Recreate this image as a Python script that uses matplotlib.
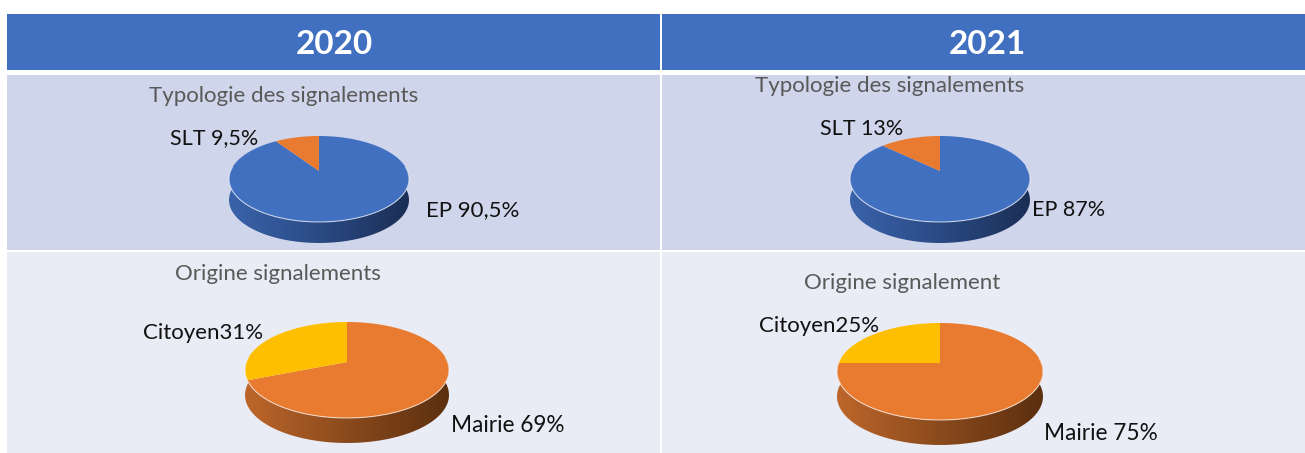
import numpy as np
import matplotlib
matplotlib.use("Agg")
import matplotlib.pyplot as plt
from matplotlib.patches import PathPatch, Rectangle
from matplotlib.path import Path
from matplotlib.colors import LinearSegmentedColormap

# ---------------------------
# Data
# ---------------------------
years = ["2020", "2021"]
typo_titles = ["Typologie des signalements", "Typologie des signalements"]
origin_titles = ["Origine signalements", "Origine signalement"]
slt_share = [9.5, 13]
citoyen_share = [31, 25]
typo_labels = ["SLT 9,5%", "EP 90,5%", "SLT 13%", "EP 87%"]
origin_labels = ["Citoyen31%", "Mairie 69%", "Citoyen25%", "Mairie 75%"]

BLUE = "#4170C1"
ORANGE = "#E97B30"
YELLOW = "#FDBF00"
ROW1 = "#CFD5EA"
ROW2 = "#E9EBF5"

W, H = 1305, 453
plt.rcParams["font.family"] = ["Lato", "DejaVu Sans"]

fig = plt.figure(figsize=(W / 100, H / 100), dpi=100)
ax = fig.add_axes([0, 0, 1, 1])
ax.set_xlim(0, W)
ax.set_ylim(H, 0)
ax.axis("off")


def project(ang, cx, cy, top, bottom, half_w):
    # angle counted from 12 o'clock, perspective so that far side looks smaller
    a = 2 * (cy - top) * (bottom - cy) / (bottom - top)
    k = a / (cy - top) - 1
    b = half_w * np.sqrt(1 - k ** 2)
    u, v = np.sin(ang), np.cos(ang)
    s = 1 / (1 + k * v)
    return cx + b * u * s, cy - a * v * s


def draw_pie(share, main_col, small_col, side_cols, cx, cy, top, bottom, half_w, depth):
    # side of the disc
    t = np.linspace(np.pi / 2 - 0.12, 3 * np.pi / 2 + 0.12, 200)
    x, y = project(t, cx, cy, top, bottom, half_w)
    verts = np.vstack([np.column_stack([x, y]), np.column_stack([x[::-1], y[::-1] + depth])])
    clip = PathPatch(Path(np.vstack([verts, verts[:1]])), fc="none", ec="none", transform=ax.transData)
    ax.add_patch(clip)
    cmap = LinearSegmentedColormap.from_list("side", side_cols)
    im = ax.imshow(np.linspace(0, 1, 256)[None, :], cmap=cmap, aspect="auto",
                   extent=[x.min(), x.max(), bottom + depth, top], zorder=2)
    im.set_clip_path(clip)
    ax.set_xlim(0, W)
    ax.set_ylim(H, 0)
    # top surface
    split = 2 * np.pi * (1 - share / 100)
    t = np.linspace(0, split, 300)
    x, y = project(t, cx, cy, top, bottom, half_w)
    ax.fill(np.r_[cx, x], np.r_[cy, y], color=main_col, lw=0, zorder=3)
    t2 = np.linspace(split, 2 * np.pi, 100)
    x2, y2 = project(t2, cx, cy, top, bottom, half_w)
    ax.fill(np.r_[cx, x2], np.r_[cy, y2], color=small_col, lw=0, zorder=3)
    # thin light rim on the front edge
    t3 = np.linspace(np.pi / 2 - 0.1, 3 * np.pi / 2 + 0.1, 200)
    x3, y3 = project(t3, cx, cy, top, bottom, half_w)
    ax.plot(x3, y3, color="white", lw=0.8, alpha=0.65, zorder=4)


# ---------------------------
# Table background
# ---------------------------
for x0, x1 in [(7, 660), (662, 1305)]:
    ax.add_patch(Rectangle((x0, 14), x1 - x0, 56, fc=BLUE, ec="none"))
    ax.add_patch(Rectangle((x0, 75), x1 - x0, 175, fc=ROW1, ec="none"))
    ax.add_patch(Rectangle((x0, 252), x1 - x0, 201, fc=ROW2, ec="none"))

ax.text(334, 44, years[0], color="white", fontsize=24, fontweight="bold", ha="center", va="center")
ax.text(987, 44, years[1], color="white", fontsize=24, fontweight="bold", ha="center", va="center")

# ---------------------------
# Pies
# ---------------------------
blue_side = ["#3A63AB", "#2A4A84", "#1B2F55"]
orange_side = ["#BD662B", "#8A4A1C", "#5C2F0F"]
draw_pie(slt_share[0], BLUE, ORANGE, blue_side, 319, 171, 136, 222, 90, 21)
draw_pie(slt_share[1], BLUE, ORANGE, blue_side, 940, 171, 136, 222, 90, 21)
draw_pie(citoyen_share[0], ORANGE, YELLOW, orange_side, 347, 362, 322, 418, 102, 25)
draw_pie(citoyen_share[1], ORANGE, YELLOW, orange_side, 940, 363, 323, 420, 103, 25)

# ---------------------------
# Titles and labels
# ---------------------------
grey = "#595959"
ax.text(284, 96, typo_titles[0], color=grey, fontsize=16, ha="center", va="center")
ax.text(890, 86, typo_titles[1], color=grey, fontsize=16, ha="center", va="center")
ax.text(278, 274, origin_titles[0], color=grey, fontsize=16, ha="center", va="center")
ax.text(902, 283, origin_titles[1], color=grey, fontsize=16, ha="center", va="center")

dark = "#111111"
ax.text(214, 138, typo_labels[0], color=dark, fontsize=15.5, ha="center", va="center")
ax.text(473, 210, typo_labels[1], color=dark, fontsize=16, ha="center", va="center")
ax.text(862, 129, typo_labels[2], color=dark, fontsize=15.5, ha="center", va="center")
ax.text(1069, 210, typo_labels[3], color=dark, fontsize=15.5, ha="center", va="center")
ax.text(203, 333, origin_labels[0], color=dark, fontsize=16, ha="center", va="center")
ax.text(508, 426, origin_labels[1], color=dark, fontsize=16.3, ha="center", va="center")
ax.text(819, 326, origin_labels[2], color=dark, fontsize=16, ha="center", va="center")
ax.text(1101, 433, origin_labels[3], color=dark, fontsize=16.3, ha="center", va="center")

fig.savefig("out.png", dpi=100, facecolor="white")
plt.close(fig)
